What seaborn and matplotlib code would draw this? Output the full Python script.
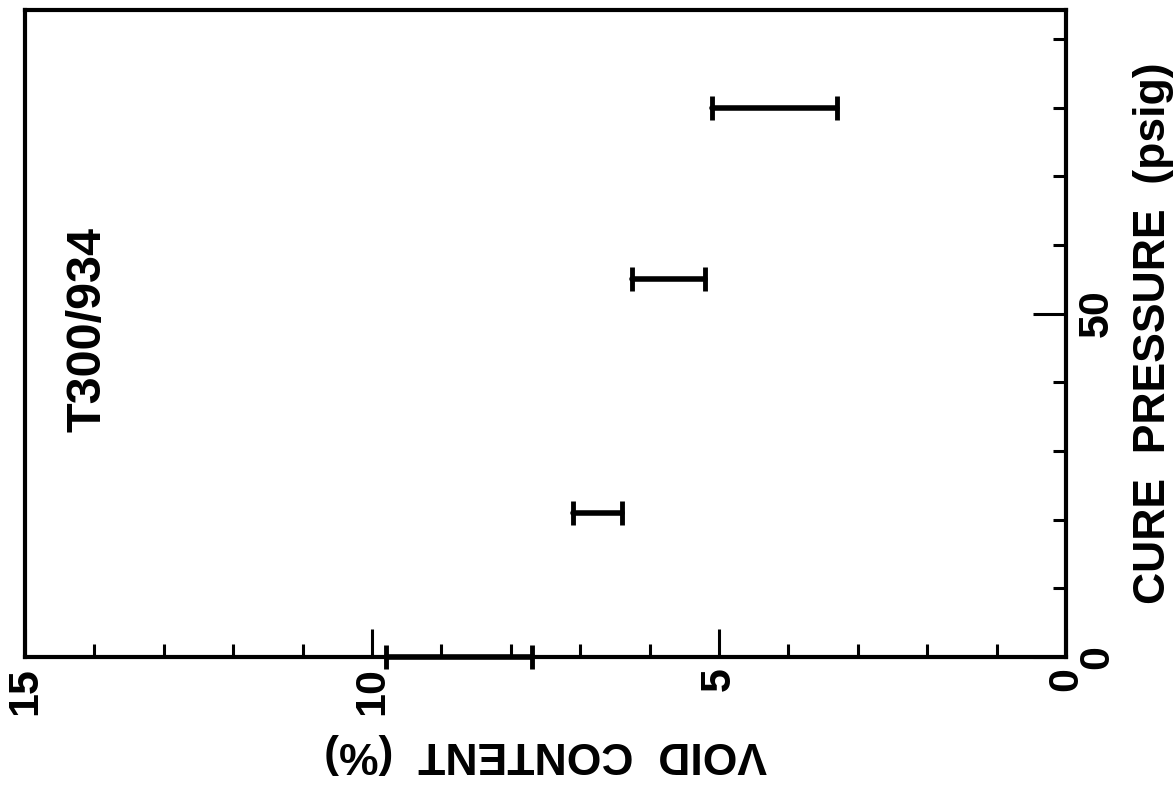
import matplotlib
matplotlib.use("Agg")
import matplotlib.pyplot as plt
import seaborn as sns
import pandas as pd
from matplotlib.ticker import MultipleLocator, FixedLocator

# Data (cure pressure in psig, void content range in %)
pressure = [0, 21, 55, 80]
void_high = [9.8, 7.1, 6.25, 5.1]
void_low = [7.7, 6.4, 5.2, 3.3]
void_ticks = [0, 5, 10, 15]
pressure_ticks = [0, 50]
material = "T300/934"

rows = []
for p, hi, lo in zip(pressure, void_high, void_low):
    rows.append({"pressure": p, "void": hi})
    rows.append({"pressure": p, "void": lo})
df = pd.DataFrame(rows)

sns.set_theme(style="white", rc={"text.color": "black", "axes.labelcolor": "black",
                                 "xtick.color": "black", "ytick.color": "black"})
plt.rcParams["font.family"] = ["Liberation Sans", "DejaVu Sans"]
plt.rcParams["font.weight"] = "bold"

fig = plt.figure(figsize=(11.76, 7.85), dpi=100)
ax = fig.add_axes([25 / 1176, (785 - 657) / 785, (1066 - 25) / 1176, (657 - 10) / 785])

sns.lineplot(data=df, x="void", y="pressure", units="pressure", estimator=None,
             sort=False, color="black", linewidth=4, ax=ax, clip_on=False, legend=False)
sns.scatterplot(data=df, x="void", y="pressure", marker="|", s=300, linewidth=3.5,
                color="black", ax=ax, clip_on=False, legend=False)

ax.set_xlim(15, 0)
ax.set_ylim(0, 94.2)

for sp in ax.spines.values():
    sp.set_linewidth(3)
    sp.set_color("black")

# void content axis (bottom)
ax.xaxis.set_major_locator(FixedLocator(void_ticks))
ax.xaxis.set_minor_locator(MultipleLocator(1))
ax.set_xticklabels([str(v) for v in void_ticks])
ax.tick_params(axis="x", which="major", direction="in", length=20, width=2.2,
               bottom=True, top=False, labelsize=31, pad=7, labelrotation=90, colors="black")
ax.tick_params(axis="x", which="minor", direction="in", length=9.5, width=2.2,
               bottom=True, top=False)

# pressure axis (right)
ax.yaxis.tick_right()
ax.yaxis.set_major_locator(FixedLocator(pressure_ticks))
ax.yaxis.set_minor_locator(MultipleLocator(10))
ax.set_yticklabels([str(v) for v in pressure_ticks])
ax.tick_params(axis="y", which="major", direction="in", length=24, width=2.2,
               left=False, right=True, labelleft=False, labelright=True,
               labelsize=31, pad=8, labelrotation=90, colors="black")
ax.tick_params(axis="y", which="minor", direction="in", length=9.5, width=2.2,
               left=False, right=True)
for lab in ax.get_yticklabels():
    lab.set_verticalalignment("center")
    lab.set_fontweight("bold")
for lab in ax.get_xticklabels():
    lab.set_fontweight("bold")

ax.set_xlabel("VOID  CONTENT  (%)", fontsize=32, fontweight="bold", rotation=180, color="black")
ax.xaxis.set_label_coords(0.5, (657 - 733) / 647)

ax.yaxis.set_label_position("right")
ax.set_ylabel("CURE  PRESSURE  (psig)", fontsize=32, fontweight="bold", rotation=90, color="black")
ax.yaxis.set_label_coords((1133 - 25) / 1041, 0.5)

ax.text((88 - 25) / 1041, (657 - 330) / 647, material, transform=ax.transAxes,
        rotation=90, ha="center", va="center", fontsize=35, fontweight="bold", color="black")

fig.savefig("out.png", dpi=100, facecolor="white")
